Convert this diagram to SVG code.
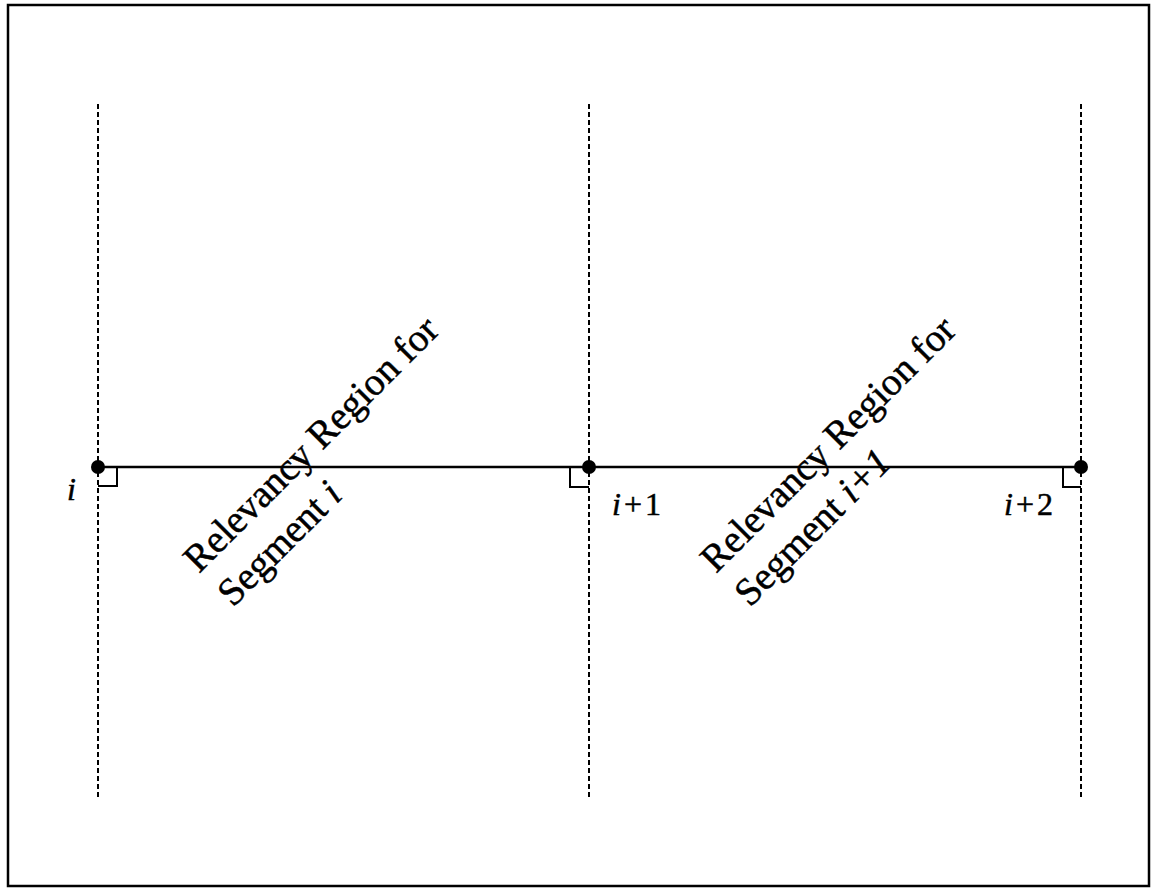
<svg xmlns="http://www.w3.org/2000/svg" width="1151" height="888" viewBox="0 0 1151 888">
<style>
.frame{fill:none;stroke:#000;stroke-width:2.5}
.dash{stroke:#000;stroke-width:2;stroke-dasharray:5 3;fill:none}
.seg{stroke:#000;stroke-width:2.5;fill:none}
.sq{stroke:#000;stroke-width:2;fill:none}
.dot{fill:#000}
.lbl{font-family:"Liberation Serif","Times New Roman",serif;font-size:32px;fill:#000;stroke:#000;stroke-width:0.5}
.rot{font-family:"Liberation Serif","Times New Roman",serif;font-size:39px;fill:#000;stroke:#000;stroke-width:0.5}
.it{font-style:italic}
</style>
<rect x="0" y="0" width="1151" height="888" fill="#fff"/>
<rect class="frame" x="8" y="5" width="1141" height="881"/>
<g id="connectors">
<line class="dash" x1="98" y1="104" x2="98" y2="800"/>
<line class="dash" x1="589" y1="104" x2="589" y2="800"/>
<line class="dash" x1="1081" y1="104" x2="1081" y2="800"/>
<line class="seg" x1="98" y1="467" x2="1081" y2="467"/>
</g>
<g id="node-i">
<circle class="dot" cx="98" cy="467" r="7"/>
<polyline class="sq" points="117,467 117,486 98,486"/>
<text class="lbl it" x="67" y="500">i</text>
</g>
<g id="node-i1">
<circle class="dot" cx="589" cy="467" r="7"/>
<polyline class="sq" points="570,467 570,487 589,487"/>
<text class="lbl" x="612" y="515"><tspan class="it">i</tspan><tspan dx="3">+</tspan><tspan dx="3">1</tspan></text>
</g>
<g id="node-i2">
<circle class="dot" cx="1081" cy="467" r="7"/>
<polyline class="sq" points="1063,467 1063,487 1081,487"/>
<text class="lbl" x="1004" y="515"><tspan class="it">i</tspan><tspan dx="3">+</tspan><tspan dx="3">2</tspan></text>
</g>
<g id="region-i" transform="translate(199,574) rotate(-45)">
<text class="rot" x="0" y="0">Relevancy Region for</text>
<text class="rot" x="0" y="48">Segment <tspan class="it">i</tspan></text>
</g>
<g id="region-i1" transform="translate(716,574) rotate(-45)">
<text class="rot" x="0" y="0">Relevancy Region for</text>
<text class="rot" x="0" y="48">Segment <tspan class="it">i+1</tspan></text>
</g>
</svg>
